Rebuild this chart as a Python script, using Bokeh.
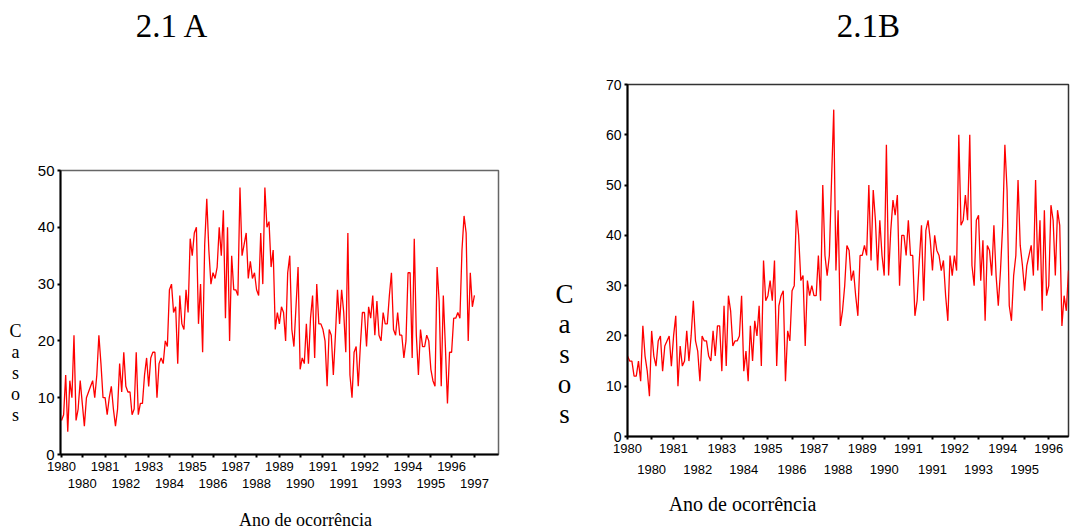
from bokeh.plotting import figure
from bokeh.models import Range1d, FixedTicker, LinearAxis
from bokeh.core.properties import value
from bokeh.layouts import row, column
from bokeh.embed import file_html
from bokeh.resources import INLINE

# ---------------- data ----------------
title_a = "2.1 A"
title_b = "2.1B"
x_title = "Ano de ocorrência"
y_title = "Casos"

cases_a = [6, 7, 14, 4, 13, 10, 21, 6, 8, 13,
           9, 5, 10, 11, 12, 13, 10, 14, 21, 16,
           10, 10, 7, 10, 12, 8, 5, 8, 16, 11,
           18, 12, 11, 11, 7, 8, 18, 7, 9, 9,
           14, 17, 12, 17, 18, 18, 10, 16, 17, 16,
           20, 19, 29, 30, 25, 26, 16, 28, 23, 22,
           29, 25, 38, 35, 39, 40, 23, 30, 18, 37,
           45, 36, 30, 32, 31, 33, 40, 35, 43, 24,
           40, 20, 35, 29, 29, 28, 47, 35, 37, 39,
           31, 34, 31, 32, 29, 28, 39, 30, 47, 40,
           41, 33, 36, 22, 25, 23, 26, 25, 20, 32,
           35, 22, 19, 26, 33, 15, 17, 16, 23, 16,
           24, 28, 17, 30, 23, 23, 22, 20, 12, 22,
           21, 14, 21, 29, 23, 29, 25, 18, 39, 14,
           10, 18, 19, 12, 19, 25, 25, 19, 26, 24,
           28, 21, 27, 21, 20, 25, 23, 23, 28, 32,
           22, 21, 25, 21, 21, 17, 20, 32, 32, 17,
           38, 21, 14, 22, 19, 19, 21, 20, 15, 13,
           12, 33, 27, 12, 28, 19, 9, 18, 18, 24,
           24, 25, 24, 36, 42, 39, 20, 32, 26, 28]

cases_b = [16, 15, 15, 12, 12, 15, 11, 22, 16, 13,
           8, 21, 16, 14, 19, 20, 13, 18, 19, 20,
           14, 20, 24, 10, 18, 14, 15, 21, 15, 20,
           27, 19, 17, 11, 20, 19, 19, 16, 15, 21,
           16, 22, 22, 13, 26, 14, 28, 25, 18, 19,
           19, 20, 28, 13, 17, 11, 22, 15, 23, 20,
           26, 14, 35, 27, 28, 31, 27, 35, 14, 26,
           28, 29, 11, 21, 19, 29, 30, 45, 40, 31,
           32, 18, 31, 28, 30, 28, 28, 36, 27, 50,
           36, 32, 36, 51, 65, 33, 45, 22, 25, 30, 38,
           37, 31, 33, 28, 24, 36, 36, 38, 36, 50,
           35, 49, 43, 33, 43, 36, 32, 58, 32, 41,
           47, 44, 48, 30, 40, 40, 36, 43, 36, 36,
           24, 27, 35, 42, 27, 41, 43, 39, 33, 40,
           37, 36, 33, 35, 28, 23, 36, 32, 36, 33,
           60, 42, 43, 48, 43, 60, 34, 30, 43, 44,
           31, 39, 23, 38, 37, 32, 42, 32, 26, 33,
           42, 58, 49, 26, 23, 32, 36, 51, 38, 34,
           29, 34, 36, 38, 32, 51, 33, 43, 25, 45,
           28, 30, 46, 43, 32, 45, 42, 22, 28, 25, 33]

year_labels_a = ["1980", "1980", "1981", "1982", "1983", "1984", "1985", "1986",
                 "1987", "1988", "1989", "1990", "1991", "1991", "1992", "1993",
                 "1994", "1995", "1996", "1997"]
year_labels_b = ["1980", "1980", "1981", "1982", "1983", "1984", "1985", "1986",
                 "1987", "1988", "1989", "1990", "1991", "1991", "1992", "1993",
                 "1994", "1995", "1996"]
y_ticks_a = [0, 10, 20, 30, 40, 50]
y_ticks_b = [0, 10, 20, 30, 40, 50, 60, 70]

SERIF = "Liberation Serif"
SANS = "Liberation Sans"
W = 1073
TOP_H = 50
BOT_H = 36
H = 528 - TOP_H - BOT_H


def blank(width, height):
    s = figure(width=width, height=height, output_backend="svg", toolbar_location=None,
               tools="", x_axis_type=None, y_axis_type=None,
               x_range=Range1d(0, width), y_range=Range1d(height, 0),
               min_border_left=0, min_border_right=0, min_border_top=0,
               min_border_bottom=0, frame_align=False)
    s.outline_line_color = None
    s.xgrid.visible = False
    s.ygrid.visible = False
    return s


def title_strip():
    s = blank(W, TOP_H)
    s.text(x=[172, 868], y=[25, 25], text=[title_a, title_b],
           text_font=value(SERIF), text_font_size="33px",
           text_align="center", text_baseline="middle", text_color="black")
    return s


def xtitle_strip():
    s = blank(W, BOT_H)
    top = 528 - BOT_H
    s.text(x=[305], y=[519 - top], text=[x_title],
           text_font=value(SERIF), text_font_size="18px",
           text_align="center", text_baseline="middle", text_color="black")
    s.text(x=[742], y=[503 - top], text=[x_title],
           text_font=value(SERIF), text_font_size="20px",
           text_align="center", text_baseline="middle", text_color="black")
    return s


def letter_strip(width, cx, cy0, dy, size):
    s = blank(width, H)
    letters = list(y_title)
    s.text(x=[cx] * len(letters), y=[cy0 - TOP_H + i * dy for i in range(len(letters))],
           text=letters, text_font=value(SERIF), text_font_size=size,
           text_align="center", text_baseline="middle", text_color="black")
    return s


def make_panel(values, labels, yticks, width, borders, xr, tick_step,
               row2_standoff, ylab_size, outline_color):
    left, right, top, bottom = borders
    p = figure(width=width, height=H, output_backend="svg",
               toolbar_location=None, tools="",
               x_range=Range1d(*xr), y_range=Range1d(yticks[0], yticks[-1]),
               min_border_left=left, min_border_right=right,
               min_border_top=top, min_border_bottom=bottom, frame_align=False)
    p.background_fill_color = "white"
    p.border_fill_color = "white"
    p.xgrid.visible = False
    p.ygrid.visible = False
    p.outline_line_color = outline_color
    p.outline_line_width = 1.5

    xs = list(range(len(values)))
    p.line(xs, values, line_color="#ff0000", line_width=1.3)

    ticks = [round(k * tick_step) for k in range(len(labels))]
    top_row = {t: (lab if k % 2 == 0 else "") for k, (t, lab) in enumerate(zip(ticks, labels))}
    odd_ticks = [t for k, t in enumerate(ticks) if k % 2 == 1]
    bot_row = {t: lab for k, (t, lab) in enumerate(zip(ticks, labels)) if k % 2 == 1}

    ax = p.xaxis[0]
    ax.ticker = FixedTicker(ticks=ticks)
    ax.major_label_overrides = top_row
    ax.axis_line_width = 2
    ax.axis_line_color = "black"
    ax.major_tick_out = 3
    ax.major_tick_in = 0
    ax.major_tick_line_width = 2
    ax.minor_tick_line_color = None
    ax.major_label_standoff = 4
    ax.major_label_text_font = SANS
    ax.major_label_text_font_size = "13px"
    ax.major_label_text_color = "black"

    ax2 = LinearAxis(ticker=FixedTicker(ticks=odd_ticks),
                     major_label_overrides=bot_row)
    ax2.axis_line_color = None
    ax2.major_tick_line_color = None
    ax2.minor_tick_line_color = None
    ax2.major_tick_out = 0
    ax2.major_tick_in = 0
    ax2.major_label_standoff = row2_standoff
    ax2.major_label_text_font = SANS
    ax2.major_label_text_font_size = "13px"
    ax2.major_label_text_color = "black"
    p.add_layout(ax2, "below")

    ay = p.yaxis[0]
    ay.ticker = FixedTicker(ticks=yticks)
    ay.axis_line_width = 2
    ay.axis_line_color = "black"
    ay.major_tick_out = 3
    ay.major_tick_in = 0
    ay.major_tick_line_width = 2
    ay.minor_tick_line_color = None
    ay.major_label_standoff = 3
    ay.major_label_text_font = SANS
    ay.major_label_text_font_size = ylab_size
    ay.major_label_text_color = "black"
    return p


la = letter_strip(30, 15, 330, 21.2, "18px")
pa = make_panel(cases_a, year_labels_a, y_ticks_a, 506,
                (30, 38, 170 - TOP_H, (528 - BOT_H) - 454),
                (-0.5, 210.6), 10.46, 5, "15px", "#666666")
lb = letter_strip(44, 28, 293, 30, "27px")
pb = make_panel(cases_b, year_labels_b, y_ticks_b, 493,
                (47, 5, 84 - TOP_H, (528 - BOT_H) - 436),
                (0, 201), 10.67, 9, "14px", "#333333")

layout = column(title_strip(), row(la, pa, lb, pb), xtitle_strip())
open("out.html", "w").write(file_html(layout, INLINE))
